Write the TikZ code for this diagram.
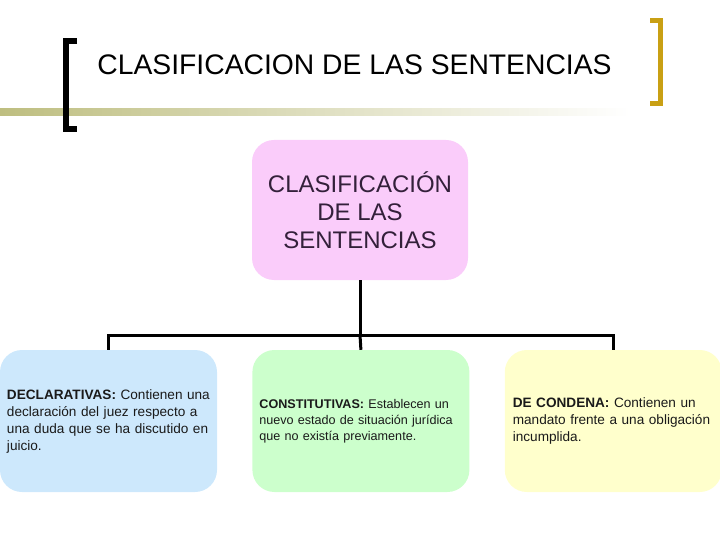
\documentclass[tikz,border=0pt]{standalone}
\usepackage{fontspec}
\setmainfont{Liberation Sans}
\usepackage{xcolor}
\usepackage{tikz}
\usetikzlibrary{positioning,calc}

\definecolor{rosa}{HTML}{FACCFA}
\definecolor{azul}{HTML}{CDE8FC}
\definecolor{verde}{HTML}{CCFFCC}
\definecolor{amarillo}{HTML}{FFFFCC}
\definecolor{oro}{HTML}{C9A014}
\definecolor{barra}{HTML}{BEBE80}
\definecolor{morado}{HTML}{33203A}
\definecolor{tinta}{HTML}{1A1A1A}

\begin{document}
\begin{tikzpicture}[
  x=1bp, y=-1bp,
  every node/.style={font=\fontsize{13.6bp}{17bp}\selectfont, text=tinta},
  caja/.style  ={rectangle, rounded corners=22bp, minimum width=217bp,
                 minimum height=142bp, text width=207bp, inner xsep=5bp,
                 inner ysep=0bp, align=left},
  enlace/.style={line width=3bp, black}
]
\useasboundingbox (0,0) rectangle (720,540);
\shade[left color=barra, right color=white] (0,109) rectangle (630,116);
\draw[line width=6bp, black] (77,41) -- (66,41) -- (66,129) -- (77,129);
\draw[line width=5bp, oro] (650,21) -- (660,21) -- (660,104) -- (650,104);
\node[font=\fontsize{28.3bp}{32bp}\selectfont, text=black] (titulo) at (354.5,65)
  {CLASIFICACION DE LAS SENTENCIAS};

\node[caja, fill=azul] (decl) at (108.5,421) {
  \hspace*{2bp}\textbf{DECLARATIVAS:} Contienen una\\
  \hspace*{2bp}declaración del juez respecto a\\
  \hspace*{2bp}una duda que se ha discutido en\\
  \hspace*{2bp}juicio.
};
\node[caja, fill=verde, right=35bp of decl,
      font=\fontsize{12.6bp}{16bp}\selectfont] (const) {
  \hspace*{2bp}\textbf{CONSTITUTIVAS:} Establecen un\\
  \hspace*{2bp}nuevo estado de situación jurídica\\
  \hspace*{2bp}que no existía previamente.
};
\node[caja, fill=amarillo, right=35bp of const] (cond) {
  \hspace*{3bp}\textbf{DE CONDENA:} Contienen un\\
  \hspace*{3bp}mandato frente a una obligación\\
  \hspace*{3bp}incumplida.
};
\node[rectangle, rounded corners=22bp, fill=rosa, minimum width=216bp,
      minimum height=140bp, align=center, text=morado,
      font=\fontsize{24bp}{28bp}\selectfont] (clasif) at (360,210)
  {CLASIFICACIÓN\\DE LAS\\SENTENCIAS};

\coordinate (nudo) at (360,335);
\draw[enlace] (clasif.south) -- (nudo);
\draw[enlace] (decl.north) |- (nudo) -| (cond.north);
\draw[enlace] (nudo) -- (const.north);
\end{tikzpicture}
\end{document}
